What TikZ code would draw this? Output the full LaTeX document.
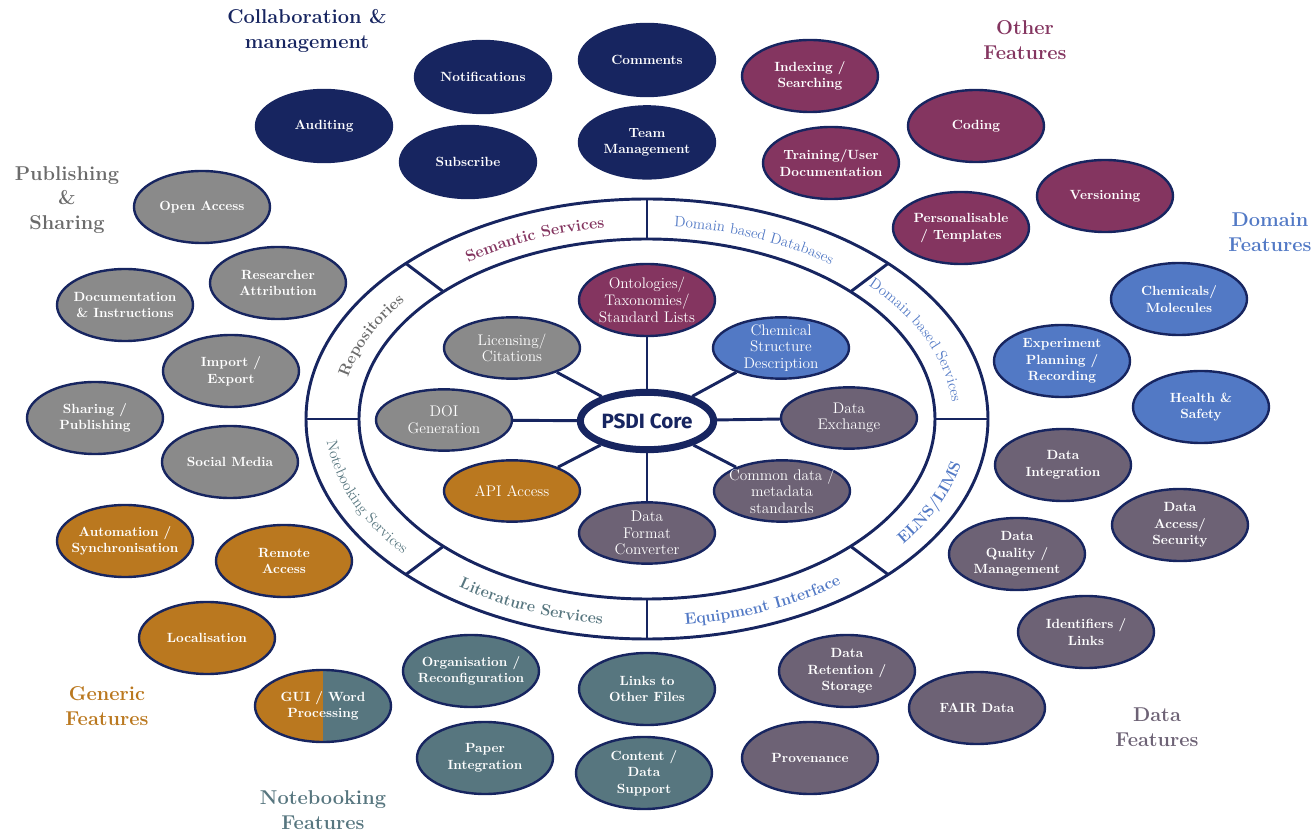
\documentclass[tikz,border=0pt]{standalone}
\usepackage{fontspec}
\newfontfamily\corefont{Fira Sans}
\usetikzlibrary{positioning, shapes.geometric, decorations.text}

\definecolor{navy}{HTML}{172560}
\definecolor{othercol}{HTML}{843560}
\definecolor{domaincol}{HTML}{5279C5}
\definecolor{datacol}{HTML}{6D6275}
\definecolor{notecol}{HTML}{57767F}
\definecolor{genericcol}{HTML}{BA781F}
\definecolor{pubcol}{HTML}{8A8A8A}
\definecolor{pubtext}{HTML}{6B6B6B}

\begin{document}
\begin{tikzpicture}[
        x=0.75pt, y=0.75pt,
        feat/.style={ellipse, draw=navy, line width=1.8pt, minimum width=102pt, minimum height=54pt, inner xsep=-8pt, inner ysep=-4pt, align=center, text=white, font=\fontsize{10}{12.5}\selectfont\bfseries},
        service/.style={feat, minimum height=46pt, font=\fontsize{11.5}{12.5}\selectfont},
        title/.style={align=center, font=\fontsize{15}{18.5}\selectfont\bfseries},
        ring/.style={draw=navy, line width=2.2pt},
        spoke/.style={draw=navy, line width=2.2pt},
        ringtext/.style n args={3}{decorate, decoration={text along path, text align=center, text={|#1\selectfont\color{#2}|#3}}}
    ]
        \useasboundingbox (-647,419) rectangle (667,-412);

        % Ring
        \draw[ring] (0,0) ellipse [x radius=341, y radius=220];
        \draw[ring] (0,0) ellipse [x radius=288, y radius=180];
        \foreach \a in {0,45,...,315}
            \draw[ring] (\a:288 and 180) -- (\a:341 and 220);

        \path[ringtext={\bfseries\fontsize{12}{12}}{pubtext}{Repositories}] (185:306 and 193) arc[start angle=185, end angle=129, x radius=306, y radius=193];
        \path[ringtext={\bfseries\fontsize{12}{12}}{othercol}{Semantic Services}] (141:306 and 193) arc[start angle=141, end angle=85, x radius=306, y radius=193];
        \path[ringtext={\fontsize{11.3}{12}}{domaincol}{Domain based Databases}] (96:306 and 193) arc[start angle=96, end angle=40, x radius=306, y radius=193];
        \path[ringtext={\fontsize{11.3}{12}}{domaincol}{Domain based Services}] (51:306 and 193) arc[start angle=51, end angle=-5, x radius=306, y radius=193];
        \path[ringtext={\bfseries\fontsize{12}{12}}{domaincol}{ELNS/LIMS}] (-51:322 and 207) arc[start angle=-51, end angle=5, x radius=322, y radius=207];
        \path[ringtext={\bfseries\fontsize{12}{12}}{domaincol}{Equipment Interface}] (265:322 and 207) arc[start angle=265, end angle=321, x radius=322, y radius=207];
        \path[ringtext={\bfseries\fontsize{12}{12}}{notecol}{Literature Services}] (219:322 and 207) arc[start angle=219, end angle=275, x radius=322, y radius=207];
        \path[ringtext={\fontsize{11.5}{12}}{notecol}{Notebooking Services}] (174:322 and 207) arc[start angle=174, end angle=230, x radius=322, y radius=207];

        % Core and services
        \node[ellipse, draw=navy, line width=5.25pt, fill=white, minimum width=100pt, minimum height=43pt, inner sep=0pt, text=navy, font=\corefont\bfseries\fontsize{15.5}{15.5}\selectfont] (core) at (0,-2) {PSDI Core};
        \node[service, fill=othercol, minimum height=54pt] (onto) at (0,119) {Ontologies/\\Taxonomies/\\Standard Lists};
        \node[service, fill=pubcol] (lic) at (-135,71) {Licensing/\\Citations};
        \node[service, fill=domaincol] (chem) at (134,71) {Chemical\\Structure\\Description};
        \node[service, fill=pubcol] (doi) at (-203,-1) {DOI\\Generation};
        \node[service, fill=datacol] (dex) at (202,1) {Data\\Exchange};
        \node[service, fill=genericcol] (api) at (-135,-72) {API Access};
        \node[service, fill=datacol] (common) at (135,-72) {Common data /\\metadata\\standards};
        \node[service, fill=datacol] (dfc) at (0,-114) {Data\\Format\\Converter};

        % Spokes
        \foreach \n in {onto, lic, chem, doi, dex, api, common, dfc}
            \draw[spoke] (core) -- (\n);

        % Collaboration & management
        \node[title, text=navy] (collabtitle) at (-340,388) {Collaboration \&\\management};
        \node[feat, fill=navy] (audit) at (-323,293) {Auditing};
        \node[feat, fill=navy] (notif) at (-164,342) {Notifications};
        \node[feat, fill=navy] (subs) at (-179,257) {Subscribe};
        \node[feat, fill=navy] (comm) at (0,359) {Comments};
        \node[feat, fill=navy, below=6pt of comm] (team) {Team\\Management};

        % Other features
        \node[title, text=othercol] (othertitle) at (378,379) {Other\\Features};
        \node[feat, fill=othercol] (index) at (163,343) {Indexing /\\Searching};
        \node[feat, fill=othercol] (train) at (184,256) {Training/User\\Documentation};
        \node[feat, fill=othercol] (coding) at (329,293) {Coding};
        \node[feat, fill=othercol] (person) at (314,191) {Personalisable\\/ Templates};
        \node[feat, fill=othercol] (version) at (458,223) {Versioning};

        % Domain features
        \node[title, text=domaincol] (domaintitle) at (623,187) {Domain\\Features};
        \node[feat, fill=domaincol] (chemmol) at (532,120) {Chemicals/\\Molecules};
        \node[feat, fill=domaincol] (expt) at (415,58) {Experiment\\Planning /\\Recording};
        \node[feat, fill=domaincol] (health) at (554,12) {Health \&\\Safety};

        % Data features
        \node[title, text=datacol] (datatitle) at (510,-308) {Data\\Features};
        \node[feat, fill=datacol] (dinteg) at (416,-46) {Data\\Integration};
        \node[feat, fill=datacol] (daccess) at (533,-106) {Data\\Access/\\Security};
        \node[feat, fill=datacol] (dquality) at (370,-135) {Data\\Quality /\\Management};
        \node[feat, fill=datacol] (ident) at (439,-213) {Identifiers /\\Links};
        \node[feat, fill=datacol] (fair) at (330,-289) {FAIR Data};
        \node[feat, fill=datacol] (retain) at (200,-252) {Data\\Retention /\\Storage};
        \node[feat, fill=datacol] (prov) at (163,-339) {Provenance};

        % Notebooking features
        \node[title, text=notecol] (notetitle) at (-324,-391) {Notebooking\\Features};
        \node[feat, fill=notecol] (organise) at (-176,-252) {Organisation /\\Reconfiguration};
        \node[feat, fill=notecol] (links) at (0,-270) {Links to\\Other Files};
        \node[feat, fill=notecol] (paper) at (-162,-339) {Paper\\Integration};
        \node[feat, fill=notecol] (content) at (-3,-354) {Content /\\Data\\Support};
        \node[feat, fill=genericcol, path picture={\fill[notecol] (path picture bounding box.north) rectangle (path picture bounding box.south east);}] (gui) at (-324,-287) {GUI / Word\\Processing};

        % Generic features
        \node[title, text=genericcol] (generictitle) at (-540,-287) {Generic\\Features};
        \node[feat, fill=genericcol] (auto) at (-522,-122) {Automation /\\Synchronisation};
        \node[feat, fill=genericcol] (remote) at (-363,-142) {Remote\\Access};
        \node[feat, fill=genericcol] (local) at (-440,-219) {Localisation};

        % Publishing & sharing
        \node[title, text=pubtext] (pubtitle) at (-580,219) {Publishing\\\&\\Sharing};
        \node[feat, fill=pubcol] (open) at (-445,212) {Open Access};
        \node[feat, fill=pubcol] (attrib) at (-369,136) {Researcher\\Attribution};
        \node[feat, fill=pubcol] (docs) at (-522,114) {Documentation\\\& Instructions};
        \node[feat, fill=pubcol] (impexp) at (-416,48) {Import /\\Export};
        \node[feat, fill=pubcol] (sharing) at (-552,1) {Sharing /\\Publishing};
        \node[feat, fill=pubcol] (social) at (-417,-43) {Social Media};
    \end{tikzpicture}
\end{document}
